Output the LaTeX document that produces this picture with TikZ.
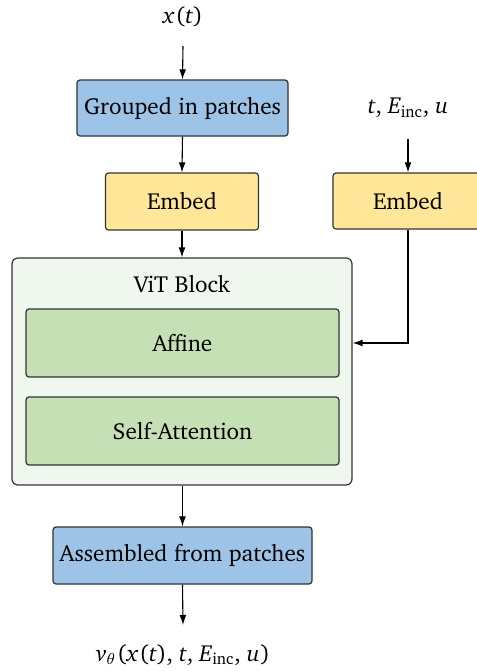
\documentclass[tikz,border=0pt]{standalone}
\usepackage[T1]{fontenc}
\usepackage{charter}
\usetikzlibrary{arrows.meta}
\definecolor{bluef}{HTML}{9DC3E6}
\definecolor{yellowf}{HTML}{FFE699}
\definecolor{greenf}{HTML}{C5E0B4}
\definecolor{outerf}{HTML}{F0F7EE}
\definecolor{edge}{HTML}{333333}
\newcommand{\iv}[1]{\textit{#1}}
\newcommand{\cs}{,\hspace{0.26em}}
\tikzset{
  px/.style={x=0.5pt,y=-0.5pt},
  box/.style={draw=edge,line width=0.6pt,rounded corners=1.5pt,inner sep=0pt,align=center},
  bluebox/.style={box,fill=bluef},
  yellowbox/.style={box,fill=yellowf},
  greenbox/.style={box,fill=greenf},
  arr/.style={-{Latex[length=5pt,width=3.4pt]},line width=0.55pt,black},
  lbl/.style={inner sep=0pt}
}
\begin{document}
\begin{tikzpicture}[px,font=\fontsize{11.6}{13.5}\selectfont]
\useasboundingbox (0,0) rectangle (477,671);
% outer ViT block
\node[draw=edge,fill=outerf,line width=0.6pt,rounded corners=3pt,minimum width=170pt,minimum height=113.5pt,inner sep=0pt] (vit) at (182,371.5) {};
\node[lbl] (vitlbl) at (182,284) {ViT Block};
\node[greenbox,minimum width=156.5pt,minimum height=34pt] (aff) at (182.5,343) {Affine};
\node[greenbox,minimum width=156.5pt,minimum height=34pt] (sa) at (182.5,431) {Self-Attention};
% top
\node[lbl] (xt) at (183,17) {\iv{x}\kern0.05em(\iv{t}\/)};
\coordinate (xts) at (183,46);
\node[bluebox,minimum width=105.5pt,minimum height=28pt] (grp) at (182.5,108) {Grouped in patches};
\node[yellowbox,minimum width=76.5pt,minimum height=28.5pt] (emb1) at (182,201.5) {Embed};
% right
\node[lbl] (cond) at (408,108) {\iv{t}\/\cs\iv{E}\textsubscript{inc}\cs\iv{u}};
\coordinate (conds) at (408,139);
\node[yellowbox,minimum width=75pt,minimum height=28pt] (emb2) at (408,201) {Embed};
% bottom
\node[bluebox,minimum width=129.5pt,minimum height=28.5pt] (asm) at (182.5,555.5) {Assembled from patches};
\coordinate (oute) at (183,625);
\node[lbl] (out) at (183,655) {\iv{v}$_\theta$\kern0.05em(\iv{x}\kern0.05em(\iv{t}\/)\cs\iv{t}\/\cs\iv{E}\textsubscript{inc}\cs\iv{u}\kern0.03em)};
% arrows
\draw[arr] (xts) -- (grp.north);
\draw[arr] (grp.south) -- (emb1.north);
\draw[arr] (emb1.south) -- (vit.north -| emb1.south);
\draw[arr] (conds) -- (emb2.north);
\draw[arr] (emb2.south) |- (aff.east -| vit.east);
\draw[arr] (vit.south -| asm.north) -- (asm.north);
\draw[arr] (asm.south) -- (oute);
\end{tikzpicture}
\end{document}
